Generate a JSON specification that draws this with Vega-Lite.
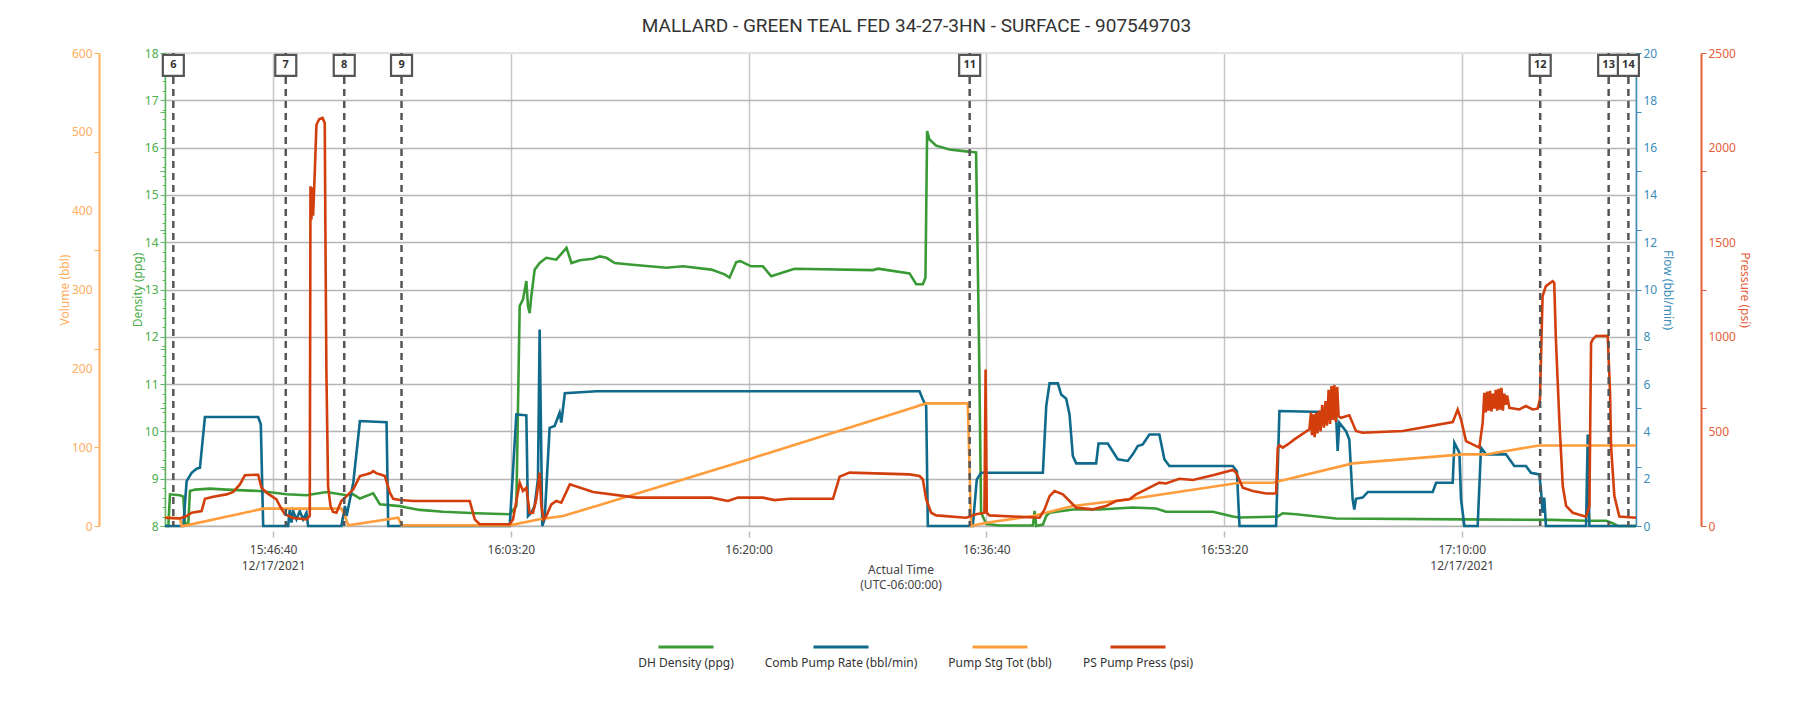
{
  "$schema": "https://vega.github.io/schema/vega-lite/v6.json",
  "width": 1471,
  "height": 473,
  "autosize": {"type": "none"},
  "padding": {"left": 165, "top": 53, "right": 173, "bottom": 196},
  "background": "#ffffff",
  "config": {
    "view": {"stroke": "#e2e2e2", "strokeWidth": 2},
    "axis": {"labelFont": "Noto Sans", "titleFont": "Noto Sans", "labelFontSize": 12, "titleFontSize": 12, "titleFontWeight": "normal", "labelOverlap": false},
    "legend": {"labelFont": "Noto Sans"}
  },
  "title": {"text": "MALLARD - GREEN TEAL FED 34-27-3HN - SURFACE - 907549703", "font": "Roboto", "fontSize": 19, "fontWeight": "normal", "color": "#333333", "anchor": "middle", "frame": "group", "offset": 11, "dx": 16},
  "datasets": {
    "density": [
      {"t":"2021-12-17T15:39:05","v":8.0},{"t":"2021-12-17T15:39:19","v":8.0},{"t":"2021-12-17T15:39:26","v":8.67},{"t":"2021-12-17T15:40:08","v":8.65},{"t":"2021-12-17T15:40:22","v":8.62},{"t":"2021-12-17T15:40:29","v":8.05},{"t":"2021-12-17T15:40:43","v":8.05},{"t":"2021-12-17T15:40:50","v":8.74},{"t":"2021-12-17T15:41:11","v":8.77},{"t":"2021-12-17T15:42:14","v":8.79},{"t":"2021-12-17T15:43:24","v":8.77},{"t":"2021-12-17T15:45:44","v":8.74},{"t":"2021-12-17T15:47:36","v":8.67},{"t":"2021-12-17T15:49:00","v":8.65},{"t":"2021-12-17T15:50:24","v":8.72},{"t":"2021-12-17T15:51:49","v":8.65},{"t":"2021-12-17T15:52:17","v":8.67},{"t":"2021-12-17T15:52:45","v":8.58},{"t":"2021-12-17T15:53:41","v":8.69},{"t":"2021-12-17T15:54:09","v":8.46},{"t":"2021-12-17T15:55:33","v":8.42},{"t":"2021-12-17T15:56:01","v":8.39},{"t":"2021-12-17T15:56:57","v":8.34},{"t":"2021-12-17T15:58:35","v":8.30},{"t":"2021-12-17T16:00:55","v":8.27},{"t":"2021-12-17T16:03:15","v":8.25},{"t":"2021-12-17T16:03:43","v":8.42},{"t":"2021-12-17T16:03:57","v":12.65},{"t":"2021-12-17T16:04:11","v":12.79},{"t":"2021-12-17T16:04:25","v":13.18},{"t":"2021-12-17T16:04:32","v":12.65},{"t":"2021-12-17T16:04:39","v":12.5},{"t":"2021-12-17T16:04:46","v":12.86},{"t":"2021-12-17T16:05:00","v":13.42},{"t":"2021-12-17T16:05:21","v":13.56},{"t":"2021-12-17T16:05:49","v":13.67},{"t":"2021-12-17T16:06:31","v":13.63},{"t":"2021-12-17T16:07:14","v":13.88},{"t":"2021-12-17T16:07:35","v":13.56},{"t":"2021-12-17T16:08:10","v":13.62},{"t":"2021-12-17T16:09:06","v":13.65},{"t":"2021-12-17T16:09:34","v":13.70},{"t":"2021-12-17T16:10:02","v":13.67},{"t":"2021-12-17T16:10:37","v":13.56},{"t":"2021-12-17T16:11:40","v":13.53},{"t":"2021-12-17T16:14:14","v":13.46},{"t":"2021-12-17T16:15:24","v":13.49},{"t":"2021-12-17T16:17:23","v":13.42},{"t":"2021-12-17T16:18:19","v":13.32},{"t":"2021-12-17T16:18:40","v":13.25},{"t":"2021-12-17T16:19:08","v":13.58},{"t":"2021-12-17T16:19:25","v":13.60},{"t":"2021-12-17T16:20:11","v":13.49},{"t":"2021-12-17T16:21:00","v":13.49},{"t":"2021-12-17T16:21:35","v":13.28},{"t":"2021-12-17T16:23:13","v":13.44},{"t":"2021-12-17T16:28:43","v":13.41},{"t":"2021-12-17T16:29:04","v":13.44},{"t":"2021-12-17T16:31:17","v":13.34},{"t":"2021-12-17T16:31:45","v":13.11},{"t":"2021-12-17T16:32:13","v":13.11},{"t":"2021-12-17T16:32:24","v":13.25},{"t":"2021-12-17T16:32:31","v":16.35},{"t":"2021-12-17T16:32:41","v":16.17},{"t":"2021-12-17T16:33:09","v":16.04},{"t":"2021-12-17T16:34:05","v":15.96},{"t":"2021-12-17T16:35:15","v":15.92},{"t":"2021-12-17T16:35:57","v":15.90},{"t":"2021-12-17T16:36:09","v":11.94},{"t":"2021-12-17T16:36:18","v":8.28},{"t":"2021-12-17T16:36:40","v":8.04},{"t":"2021-12-17T16:37:36","v":8.01},{"t":"2021-12-17T16:39:56","v":8.01},{"t":"2021-12-17T16:40:03","v":8.32},{"t":"2021-12-17T16:40:10","v":8.0},{"t":"2021-12-17T16:40:38","v":8.03},{"t":"2021-12-17T16:40:52","v":8.21},{"t":"2021-12-17T16:41:06","v":8.28},{"t":"2021-12-17T16:42:44","v":8.35},{"t":"2021-12-17T16:44:36","v":8.35},{"t":"2021-12-17T16:46:56","v":8.39},{"t":"2021-12-17T16:48:34","v":8.37},{"t":"2021-12-17T16:49:16","v":8.30},{"t":"2021-12-17T16:52:33","v":8.30},{"t":"2021-12-17T16:53:57","v":8.20},{"t":"2021-12-17T16:54:25","v":8.18},{"t":"2021-12-17T16:57:06","v":8.20},{"t":"2021-12-17T16:57:27","v":8.27},{"t":"2021-12-17T16:58:23","v":8.25},{"t":"2021-12-17T17:01:11","v":8.16},{"t":"2021-12-17T17:10:04","v":8.14},{"t":"2021-12-17T17:16:22","v":8.13},{"t":"2021-12-17T17:18:43","v":8.11},{"t":"2021-12-17T17:20:07","v":8.11},{"t":"2021-12-17T17:20:35","v":8.06},{"t":"2021-12-17T17:20:56","v":8.0},{"t":"2021-12-17T17:22:13","v":8.0}
    ],
    "rate": [
      {"t":"2021-12-17T15:39:05","v":0},{"t":"2021-12-17T15:40:22","v":0},{"t":"2021-12-17T15:40:36","v":1.90},{"t":"2021-12-17T15:40:57","v":2.25},{"t":"2021-12-17T15:41:18","v":2.42},{"t":"2021-12-17T15:41:32","v":2.46},{"t":"2021-12-17T15:41:53","v":4.61},{"t":"2021-12-17T15:45:37","v":4.61},{"t":"2021-12-17T15:45:48","v":4.30},{"t":"2021-12-17T15:45:58","v":0},{"t":"2021-12-17T15:47:43","v":0},{"t":"2021-12-17T15:47:50","v":0.70},{"t":"2021-12-17T15:47:57","v":0.14},{"t":"2021-12-17T15:48:04","v":0.63},{"t":"2021-12-17T15:48:18","v":0.28},{"t":"2021-12-17T15:48:32","v":0.63},{"t":"2021-12-17T15:48:46","v":0.28},{"t":"2021-12-17T15:49:00","v":0.56},{"t":"2021-12-17T15:49:07","v":0},{"t":"2021-12-17T15:51:27","v":0},{"t":"2021-12-17T15:51:42","v":0.85},{"t":"2021-12-17T15:51:49","v":0.42},{"t":"2021-12-17T15:52:17","v":1.83},{"t":"2021-12-17T15:52:45","v":4.44},{"t":"2021-12-17T15:54:37","v":4.39},{"t":"2021-12-17T15:54:44","v":0},{"t":"2021-12-17T16:03:15","v":0},{"t":"2021-12-17T16:03:43","v":4.72},{"t":"2021-12-17T16:04:25","v":4.68},{"t":"2021-12-17T16:04:32","v":0.42},{"t":"2021-12-17T16:04:46","v":0.56},{"t":"2021-12-17T16:05:00","v":0.85},{"t":"2021-12-17T16:05:14","v":2.0},{"t":"2021-12-17T16:05:21","v":8.31},{"t":"2021-12-17T16:05:32","v":0},{"t":"2021-12-17T16:05:42","v":0.3},{"t":"2021-12-17T16:06:03","v":4.15},{"t":"2021-12-17T16:06:24","v":4.23},{"t":"2021-12-17T16:06:45","v":4.79},{"t":"2021-12-17T16:06:52","v":4.37},{"t":"2021-12-17T16:07:07","v":5.61},{"t":"2021-12-17T16:09:20","v":5.70},{"t":"2021-12-17T16:31:59","v":5.70},{"t":"2021-12-17T16:32:13","v":5.35},{"t":"2021-12-17T16:32:27","v":5.07},{"t":"2021-12-17T16:32:34","v":0},{"t":"2021-12-17T16:35:43","v":0},{"t":"2021-12-17T16:36:00","v":1.97},{"t":"2021-12-17T16:36:18","v":2.25},{"t":"2021-12-17T16:40:38","v":2.25},{"t":"2021-12-17T16:40:52","v":5.07},{"t":"2021-12-17T16:41:06","v":6.03},{"t":"2021-12-17T16:41:41","v":6.03},{"t":"2021-12-17T16:41:55","v":5.56},{"t":"2021-12-17T16:42:16","v":5.38},{"t":"2021-12-17T16:42:30","v":4.72},{"t":"2021-12-17T16:42:44","v":2.96},{"t":"2021-12-17T16:42:58","v":2.65},{"t":"2021-12-17T16:44:22","v":2.65},{"t":"2021-12-17T16:44:32","v":3.49},{"t":"2021-12-17T16:45:11","v":3.49},{"t":"2021-12-17T16:45:53","v":2.82},{"t":"2021-12-17T16:46:35","v":2.75},{"t":"2021-12-17T16:46:56","v":3.03},{"t":"2021-12-17T16:47:17","v":3.38},{"t":"2021-12-17T16:47:38","v":3.45},{"t":"2021-12-17T16:48:06","v":3.87},{"t":"2021-12-17T16:48:48","v":3.87},{"t":"2021-12-17T16:49:09","v":2.82},{"t":"2021-12-17T16:49:30","v":2.54},{"t":"2021-12-17T16:53:57","v":2.54},{"t":"2021-12-17T16:54:14","v":2.32},{"t":"2021-12-17T16:54:25","v":0},{"t":"2021-12-17T16:56:59","v":0},{"t":"2021-12-17T16:57:13","v":4.86},{"t":"2021-12-17T17:00:22","v":4.82},{"t":"2021-12-17T17:01:11","v":4.79},{"t":"2021-12-17T17:01:18","v":3.17},{"t":"2021-12-17T17:01:25","v":4.37},{"t":"2021-12-17T17:01:53","v":4.01},{"t":"2021-12-17T17:02:07","v":3.66},{"t":"2021-12-17T17:02:21","v":1.13},{"t":"2021-12-17T17:02:28","v":0.70},{"t":"2021-12-17T17:02:35","v":1.15},{"t":"2021-12-17T17:03:03","v":1.20},{"t":"2021-12-17T17:03:25","v":1.44},{"t":"2021-12-17T17:07:58","v":1.44},{"t":"2021-12-17T17:08:12","v":1.83},{"t":"2021-12-17T17:09:22","v":1.83},{"t":"2021-12-17T17:09:29","v":3.52},{"t":"2021-12-17T17:09:50","v":3.10},{"t":"2021-12-17T17:09:57","v":1.13},{"t":"2021-12-17T17:10:11","v":0},{"t":"2021-12-17T17:11:07","v":0},{"t":"2021-12-17T17:11:21","v":3.31},{"t":"2021-12-17T17:11:42","v":3.03},{"t":"2021-12-17T17:13:06","v":3.03},{"t":"2021-12-17T17:13:41","v":2.54},{"t":"2021-12-17T17:14:30","v":2.54},{"t":"2021-12-17T17:14:51","v":2.25},{"t":"2021-12-17T17:15:26","v":2.18},{"t":"2021-12-17T17:15:33","v":1.55},{"t":"2021-12-17T17:15:40","v":0.56},{"t":"2021-12-17T17:15:47","v":1.20},{"t":"2021-12-17T17:15:54","v":0},{"t":"2021-12-17T17:18:43","v":0},{"t":"2021-12-17T17:18:50","v":3.87},{"t":"2021-12-17T17:18:57","v":0},{"t":"2021-12-17T17:22:13","v":0}
    ],
    "volume": [
      {"t":"2021-12-17T15:39:05","v":10.6},{"t":"2021-12-17T15:40:08","v":9.7},{"t":"2021-12-17T15:40:15","v":0},{"t":"2021-12-17T15:40:36","v":0.8},{"t":"2021-12-17T15:45:44","v":21.1},{"t":"2021-12-17T15:45:58","v":22.0},{"t":"2021-12-17T15:51:27","v":22.0},{"t":"2021-12-17T15:51:42","v":12.7},{"t":"2021-12-17T15:51:56","v":0.8},{"t":"2021-12-17T15:55:26","v":10.6},{"t":"2021-12-17T15:55:40","v":0.8},{"t":"2021-12-17T16:03:15","v":0.8},{"t":"2021-12-17T16:05:21","v":8.5},{"t":"2021-12-17T16:06:59","v":12.7},{"t":"2021-12-17T16:09:20","v":25.4},{"t":"2021-12-17T16:19:59","v":84.5},{"t":"2021-12-17T16:31:17","v":148.7},{"t":"2021-12-17T16:32:27","v":155.5},{"t":"2021-12-17T16:35:22","v":155.5},{"t":"2021-12-17T16:35:36","v":0},{"t":"2021-12-17T16:36:40","v":4.2},{"t":"2021-12-17T16:39:56","v":12.7},{"t":"2021-12-17T16:42:44","v":25.4},{"t":"2021-12-17T16:46:56","v":34.6},{"t":"2021-12-17T16:53:22","v":52.0},{"t":"2021-12-17T16:54:25","v":54.9},{"t":"2021-12-17T16:56:45","v":54.9},{"t":"2021-12-17T17:02:21","v":79.4},{"t":"2021-12-17T17:10:04","v":90.8},{"t":"2021-12-17T17:11:42","v":90.8},{"t":"2021-12-17T17:15:26","v":102.2},{"t":"2021-12-17T17:22:13","v":102.2}
    ],
    "pressure": [
      {"t":"2021-12-17T15:39:05","v":44},{"t":"2021-12-17T15:40:08","v":40},{"t":"2021-12-17T15:40:36","v":53},{"t":"2021-12-17T15:40:57","v":70},{"t":"2021-12-17T15:41:39","v":79},{"t":"2021-12-17T15:41:53","v":144},{"t":"2021-12-17T15:42:28","v":155},{"t":"2021-12-17T15:43:24","v":167},{"t":"2021-12-17T15:43:52","v":180},{"t":"2021-12-17T15:44:20","v":220},{"t":"2021-12-17T15:44:41","v":268},{"t":"2021-12-17T15:45:37","v":271},{"t":"2021-12-17T15:45:51","v":202},{"t":"2021-12-17T15:46:12","v":176},{"t":"2021-12-17T15:46:54","v":141},{"t":"2021-12-17T15:47:08","v":106},{"t":"2021-12-17T15:47:29","v":62},{"t":"2021-12-17T15:48:04","v":42},{"t":"2021-12-17T15:49:00","v":35},{"t":"2021-12-17T15:49:14","v":53},{"t":"2021-12-17T15:49:17","v":1796},{"t":"2021-12-17T15:49:21","v":1620},{"t":"2021-12-17T15:49:24","v":1790},{"t":"2021-12-17T15:49:28","v":1640},{"t":"2021-12-17T15:49:35","v":1866},{"t":"2021-12-17T15:49:42","v":2121},{"t":"2021-12-17T15:49:54","v":2151},{"t":"2021-12-17T15:50:08","v":2157},{"t":"2021-12-17T15:50:17","v":2130},{"t":"2021-12-17T15:50:20","v":1514},{"t":"2021-12-17T15:50:24","v":810},{"t":"2021-12-17T15:50:31","v":211},{"t":"2021-12-17T15:50:41","v":106},{"t":"2021-12-17T15:50:52","v":74},{"t":"2021-12-17T15:51:06","v":70},{"t":"2021-12-17T15:51:27","v":132},{"t":"2021-12-17T15:51:49","v":158},{"t":"2021-12-17T15:52:17","v":194},{"t":"2021-12-17T15:52:45","v":264},{"t":"2021-12-17T15:53:13","v":273},{"t":"2021-12-17T15:53:30","v":280},{"t":"2021-12-17T15:53:41","v":290},{"t":"2021-12-17T15:53:55","v":278},{"t":"2021-12-17T15:54:09","v":273},{"t":"2021-12-17T15:54:30","v":264},{"t":"2021-12-17T15:54:51","v":176},{"t":"2021-12-17T15:55:05","v":144},{"t":"2021-12-17T15:55:33","v":137},{"t":"2021-12-17T15:56:29","v":132},{"t":"2021-12-17T16:00:27","v":132},{"t":"2021-12-17T16:00:48","v":35},{"t":"2021-12-17T16:01:09","v":9},{"t":"2021-12-17T16:03:15","v":9},{"t":"2021-12-17T16:03:29","v":35},{"t":"2021-12-17T16:03:57","v":229},{"t":"2021-12-17T16:04:11","v":185},{"t":"2021-12-17T16:04:25","v":202},{"t":"2021-12-17T16:04:39","v":70},{"t":"2021-12-17T16:04:53","v":70},{"t":"2021-12-17T16:05:07","v":141},{"t":"2021-12-17T16:05:21","v":282},{"t":"2021-12-17T16:05:28","v":106},{"t":"2021-12-17T16:05:38","v":35},{"t":"2021-12-17T16:05:49","v":53},{"t":"2021-12-17T16:06:10","v":114},{"t":"2021-12-17T16:06:31","v":132},{"t":"2021-12-17T16:06:52","v":123},{"t":"2021-12-17T16:07:28","v":220},{"t":"2021-12-17T16:09:06","v":180},{"t":"2021-12-17T16:12:08","v":150},{"t":"2021-12-17T16:17:23","v":150},{"t":"2021-12-17T16:18:33","v":132},{"t":"2021-12-17T16:19:15","v":150},{"t":"2021-12-17T16:21:00","v":150},{"t":"2021-12-17T16:21:49","v":137},{"t":"2021-12-17T16:22:52","v":144},{"t":"2021-12-17T16:25:55","v":144},{"t":"2021-12-17T16:26:23","v":261},{"t":"2021-12-17T16:27:05","v":282},{"t":"2021-12-17T16:31:17","v":273},{"t":"2021-12-17T16:31:59","v":264},{"t":"2021-12-17T16:32:13","v":246},{"t":"2021-12-17T16:32:27","v":141},{"t":"2021-12-17T16:32:48","v":70},{"t":"2021-12-17T16:33:09","v":56},{"t":"2021-12-17T16:35:15","v":44},{"t":"2021-12-17T16:35:57","v":62},{"t":"2021-12-17T16:36:32","v":70},{"t":"2021-12-17T16:36:37","v":827},{"t":"2021-12-17T16:36:42","v":70},{"t":"2021-12-17T16:36:53","v":56},{"t":"2021-12-17T16:40:24","v":44},{"t":"2021-12-17T16:40:45","v":88},{"t":"2021-12-17T16:41:06","v":158},{"t":"2021-12-17T16:41:27","v":185},{"t":"2021-12-17T16:42:02","v":167},{"t":"2021-12-17T16:42:30","v":132},{"t":"2021-12-17T16:42:58","v":97},{"t":"2021-12-17T16:44:08","v":88},{"t":"2021-12-17T16:45:04","v":106},{"t":"2021-12-17T16:45:46","v":132},{"t":"2021-12-17T16:46:42","v":141},{"t":"2021-12-17T16:47:10","v":167},{"t":"2021-12-17T16:47:52","v":194},{"t":"2021-12-17T16:48:48","v":229},{"t":"2021-12-17T16:49:16","v":225},{"t":"2021-12-17T16:50:12","v":250},{"t":"2021-12-17T16:51:09","v":243},{"t":"2021-12-17T16:52:33","v":268},{"t":"2021-12-17T16:53:57","v":296},{"t":"2021-12-17T16:54:11","v":282},{"t":"2021-12-17T16:54:39","v":202},{"t":"2021-12-17T16:55:21","v":185},{"t":"2021-12-17T16:56:17","v":172},{"t":"2021-12-17T16:56:59","v":172},{"t":"2021-12-17T16:57:06","v":414},{"t":"2021-12-17T16:57:13","v":426},{"t":"2021-12-17T16:57:27","v":414},{"t":"2021-12-17T16:57:48","v":431},{"t":"2021-12-17T16:58:16","v":458},{"t":"2021-12-17T16:59:19","v":511},{"t":"2021-12-17T16:59:26","v":600},{"t":"2021-12-17T16:59:30","v":480},{"t":"2021-12-17T16:59:36","v":590},{"t":"2021-12-17T16:59:41","v":470},{"t":"2021-12-17T16:59:48","v":600},{"t":"2021-12-17T16:59:53","v":490},{"t":"2021-12-17T17:00:00","v":610},{"t":"2021-12-17T17:00:06","v":500},{"t":"2021-12-17T17:00:13","v":640},{"t":"2021-12-17T17:00:20","v":520},{"t":"2021-12-17T17:00:27","v":660},{"t":"2021-12-17T17:00:33","v":530},{"t":"2021-12-17T17:00:40","v":720},{"t":"2021-12-17T17:00:46","v":540},{"t":"2021-12-17T17:00:52","v":740},{"t":"2021-12-17T17:00:58","v":560},{"t":"2021-12-17T17:01:04","v":745},{"t":"2021-12-17T17:01:10","v":550},{"t":"2021-12-17T17:01:16","v":735},{"t":"2021-12-17T17:01:22","v":580},{"t":"2021-12-17T17:01:32","v":572},{"t":"2021-12-17T17:02:07","v":585},{"t":"2021-12-17T17:02:35","v":502},{"t":"2021-12-17T17:03:03","v":493},{"t":"2021-12-17T17:05:52","v":502},{"t":"2021-12-17T17:09:22","v":549},{"t":"2021-12-17T17:09:43","v":616},{"t":"2021-12-17T17:09:57","v":563},{"t":"2021-12-17T17:10:18","v":449},{"t":"2021-12-17T17:10:46","v":431},{"t":"2021-12-17T17:11:14","v":414},{"t":"2021-12-17T17:11:28","v":546},{"t":"2021-12-17T17:11:35","v":704},{"t":"2021-12-17T17:11:41","v":600},{"t":"2021-12-17T17:11:47","v":710},{"t":"2021-12-17T17:11:53","v":610},{"t":"2021-12-17T17:11:59","v":715},{"t":"2021-12-17T17:12:05","v":605},{"t":"2021-12-17T17:12:11","v":700},{"t":"2021-12-17T17:12:17","v":620},{"t":"2021-12-17T17:12:23","v":720},{"t":"2021-12-17T17:12:29","v":610},{"t":"2021-12-17T17:12:35","v":725},{"t":"2021-12-17T17:12:41","v":615},{"t":"2021-12-17T17:12:47","v":730},{"t":"2021-12-17T17:12:53","v":610},{"t":"2021-12-17T17:12:59","v":700},{"t":"2021-12-17T17:13:05","v":640},{"t":"2021-12-17T17:13:11","v":690},{"t":"2021-12-17T17:13:20","v":625},{"t":"2021-12-17T17:14:02","v":616},{"t":"2021-12-17T17:14:30","v":634},{"t":"2021-12-17T17:14:58","v":616},{"t":"2021-12-17T17:15:19","v":620},{"t":"2021-12-17T17:15:29","v":669},{"t":"2021-12-17T17:15:40","v":1215},{"t":"2021-12-17T17:15:54","v":1268},{"t":"2021-12-17T17:16:22","v":1294},{"t":"2021-12-17T17:16:29","v":1285},{"t":"2021-12-17T17:16:36","v":986},{"t":"2021-12-17T17:16:51","v":546},{"t":"2021-12-17T17:17:05","v":211},{"t":"2021-12-17T17:17:19","v":106},{"t":"2021-12-17T17:17:47","v":70},{"t":"2021-12-17T17:18:43","v":49},{"t":"2021-12-17T17:18:57","v":106},{"t":"2021-12-17T17:19:04","v":968},{"t":"2021-12-17T17:19:11","v":986},{"t":"2021-12-17T17:19:25","v":1004},{"t":"2021-12-17T17:20:14","v":1005},{"t":"2021-12-17T17:20:24","v":700},{"t":"2021-12-17T17:20:28","v":422},{"t":"2021-12-17T17:20:42","v":158},{"t":"2021-12-17T17:21:03","v":50},{"t":"2021-12-17T17:22:13","v":44}
    ],
    "events": [
      {"t":"2021-12-17T15:39:40","label":"6"},{"t":"2021-12-17T15:47:33","label":"7"},{"t":"2021-12-17T15:51:39","label":"8"},{"t":"2021-12-17T15:55:40","label":"9"},{"t":"2021-12-17T16:35:30","label":"11"},{"t":"2021-12-17T17:15:30","label":"12"},{"t":"2021-12-17T17:20:18","label":"13"},{"t":"2021-12-17T17:21:41","label":"14"}
    ]
  },
  "encoding": {
    "x": {
      "field": "t", "type": "temporal",
      "scale": {"domain": [{"year": 2021, "month": 12, "date": 17, "hours": 15, "minutes": 39, "seconds": 5}, {"year": 2021, "month": 12, "date": 17, "hours": 17, "minutes": 22, "seconds": 13}]},
      "axis": {
        "values": [
          {"year": 2021, "month": 12, "date": 17, "hours": 15, "minutes": 46, "seconds": 40},
          {"year": 2021, "month": 12, "date": 17, "hours": 16, "minutes": 3, "seconds": 20},
          {"year": 2021, "month": 12, "date": 17, "hours": 16, "minutes": 20, "seconds": 0},
          {"year": 2021, "month": 12, "date": 17, "hours": 16, "minutes": 36, "seconds": 40},
          {"year": 2021, "month": 12, "date": 17, "hours": 16, "minutes": 53, "seconds": 20},
          {"year": 2021, "month": 12, "date": 17, "hours": 17, "minutes": 10, "seconds": 0}
        ],
        "labelExpr": "hours(datum.value) == 16 ? timeFormat(datum.value, '%H:%M:%S') : [timeFormat(datum.value, '%H:%M:%S'), timeFormat(datum.value, '%m/%d/%Y')]",
        "grid": true, "gridColor": "#c6c6c6", "gridWidth": 1.5,
        "domain": false, "tickColor": "#bbbbbb", "tickSize": 6, "tickWidth": 1.5, "offset": 5,
        "labelColor": "#444444", "labelPadding": 7, "labelLineHeight": 16,
        "title": ["Actual Time", "(UTC-06:00:00)"], "titleColor": "#444444", "titlePadding": -7, "titleLineHeight": 15
      }
    }
  },
  "layer": [
    {
      "data": {"name": "density"},
      "mark": {"type": "line", "strokeWidth": 2.6},
      "encoding": {
        "y": {"field": "v", "type": "quantitative", "scale": {"domain": [8, 18], "nice": false, "zero": false},
          "axis": {
            "orient": "left", "offset": 0,
            "values": [8, 9, 10, 11, 12, 13, 14, 15, 16, 17, 18, 9.25, 10.5, 11.75, 14.25, 15.5, 16.75, 8.2, 8.4, 8.6, 8.8, 9.2, 9.4, 9.6, 9.8, 10.2, 10.4, 10.6, 10.8, 11.2, 11.4, 11.6, 11.8, 12.2, 12.4, 12.6, 12.8, 13.2, 13.4, 13.6, 13.8, 14.2, 14.4, 14.6, 14.8, 15.2, 15.4, 15.6, 15.8, 16.2, 16.4, 16.6, 16.8, 17.2, 17.4, 17.6, 17.8],
            "labelExpr": "datum.value % 1 == 0 ? format(datum.value, 'd') : ''",
            "grid": true,
            "gridColor": {"condition": {"test": "datum.value == 18", "value": "#e2e2e2"}, "value": "#b5b5b5"},
            "gridOpacity": {"condition": {"test": "datum.value % 1 != 0", "value": 0}, "value": 1},
            "gridWidth": 1.5,
            "domainColor": "#5cb85c", "domainWidth": 1.5,
            "tickColor": "#5cb85c",
            "tickSize": {"condition": {"test": "datum.value % 1 == 0 || ((datum.value - 8) * 4) % 5 == 0", "value": 5}, "value": 3},
            "labelColor": "#4cae4c", "labelPadding": 2,
            "title": "Density (ppg)", "titleColor": "#4cae4c", "titlePadding": 0
          }
        },
        "color": {
          "datum": "DH Density (ppg)", "type": "nominal",
          "scale": {"domain": ["DH Density (ppg)", "Comb Pump Rate (bbl/min)", "Pump Stg Tot (bbl)", "PS Pump Press (psi)"], "range": ["#3a9b36", "#0f6a8b", "#ff9d3d", "#d23f0c"]},
          "legend": {
            "orient": "none", "legendX": 492, "legendY": 565, "direction": "horizontal", "title": null,
            "symbolType": "stroke", "symbolSize": 3025, "symbolStrokeWidth": 3,
            "labelAlign": "center", "labelOffset": -29, "labelFontSize": 12, "labelColor": "#333333", "labelLimit": 300,
            "columnPadding": 30,
            "encode": {"labels": {"update": {"dy": {"value": 16}}}}
          }
        }
      }
    },
    {
      "data": {"name": "rate"},
      "mark": {"type": "line", "strokeWidth": 2.6},
      "encoding": {
        "y": {"field": "v", "type": "quantitative", "scale": {"domain": [0, 20], "nice": false},
          "axis": {
            "orient": "right", "offset": 0,
            "values": [0, 2, 4, 6, 8, 10, 12, 14, 16, 18, 20, 2.5, 5, 7.5, 12.5, 15, 17.5],
            "labelExpr": "datum.value % 2 == 0 ? datum.label : ''",
            "tickOpacity": {"condition": {"test": "(datum.value * 2) % 5 == 0", "value": 1}, "value": 0},
            "grid": false,
            "domainColor": "#3b8db8", "domainWidth": 1.5,
            "tickColor": "#3b8db8", "tickSize": 5,
            "labelColor": "#3b8db8", "labelPadding": 2,
            "title": "Flow (bbl/min)", "titleColor": "#3b8db8", "titlePadding": 4
          }
        },
        "color": {"datum": "Comb Pump Rate (bbl/min)", "type": "nominal"}
      }
    },
    {
      "data": {"name": "volume"},
      "mark": {"type": "line", "strokeWidth": 2.6},
      "encoding": {
        "y": {"field": "v", "type": "quantitative", "scale": {"domain": [0, 600], "nice": false},
          "axis": {
            "orient": "left", "offset": 66,
            "values": [0, 100, 200, 300, 400, 500, 600, 475, 350, 225],
            "labelExpr": "datum.value % 100 == 0 ? datum.label : ''",
            "tickOpacity": {"condition": {"test": "datum.value == 0 || (600 - datum.value) % 125 == 0", "value": 1}, "value": 0},
            "grid": false,
            "domainColor": "#ffad5e", "domainWidth": 2,
            "tickColor": "#ffad5e", "tickSize": 5,
            "labelColor": "#ffad5e", "labelPadding": 2,
            "title": "Volume (bbl)", "titleColor": "#ffad5e", "titlePadding": 0
          }
        },
        "color": {"datum": "Pump Stg Tot (bbl)", "type": "nominal"}
      }
    },
    {
      "data": {"name": "pressure"},
      "mark": {"type": "line", "strokeWidth": 2.6},
      "encoding": {
        "y": {"field": "v", "type": "quantitative", "scale": {"domain": [0, 2500], "nice": false},
          "axis": {
            "orient": "right", "offset": 65, "format": "d",
            "values": [0, 500, 1000, 1500, 2000, 2500, 625, 1250, 1875],
            "labelExpr": "datum.value % 500 == 0 ? datum.label : ''",
            "tickOpacity": {"condition": {"test": "datum.value % 625 == 0", "value": 1}, "value": 0},
            "grid": false,
            "domainColor": "#e4603a", "domainWidth": 2,
            "tickColor": "#e4603a", "tickSize": 5,
            "labelColor": "#e4603a", "labelPadding": 2,
            "title": "Pressure (psi)", "titleColor": "#e4603a", "titlePadding": 2
          }
        },
        "color": {"datum": "PS Pump Press (psi)", "type": "nominal"}
      }
    },
    {
      "data": {"name": "events"},
      "layer": [
        {"mark": {"type": "rule", "color": "#555555", "strokeWidth": 2.5, "strokeDash": [7, 5]},
         "encoding": {}},
        {"mark": {"type": "point", "shape": "square", "filled": true, "fill": "#ffffff", "stroke": "#555555", "strokeWidth": 2.2, "size": 441, "opacity": 1},
         "encoding": {"y": {"datum": 17.74, "type": "quantitative", "scale": {"domain": [8, 18], "nice": false, "zero": false}, "axis": null}}},
        {"mark": {"type": "text", "fontSize": 11, "fontWeight": "bold", "color": "#333333", "font": "Noto Sans"},
         "encoding": {"y": {"datum": 17.74, "type": "quantitative", "axis": null}, "text": {"field": "label"}}}
      ]
    }
  ],
  "resolve": {"scale": {"y": "independent"}, "axis": {"y": "independent"}}
}
